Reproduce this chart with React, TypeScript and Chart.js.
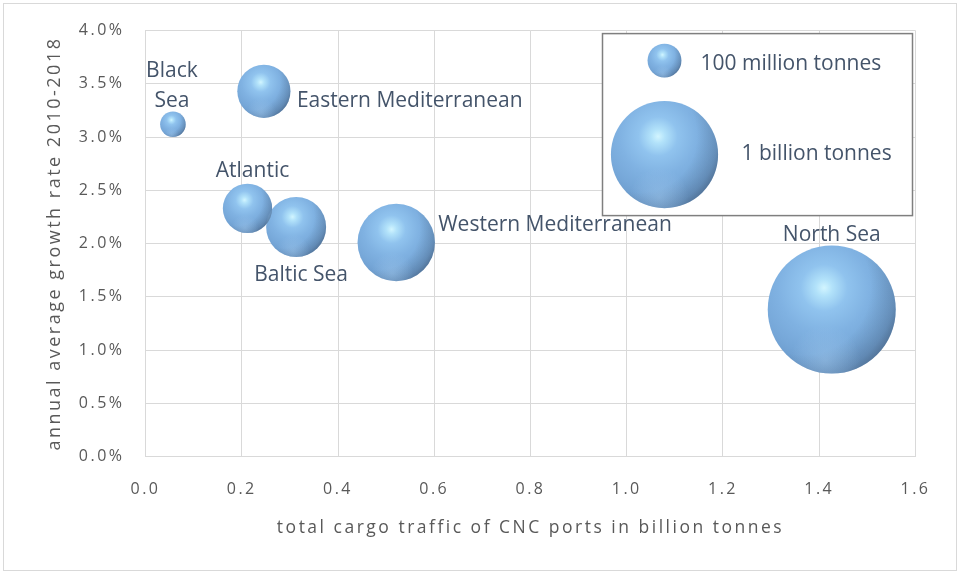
import React, { useEffect, useRef } from 'react';
import { Chart, registerables } from 'chart.js';

Chart.register(...registerables);

// ---------- data ----------
const regionNames = ['Black Sea', 'Eastern Mediterranean', 'Atlantic', 'Baltic Sea', 'Western Mediterranean', 'North Sea'];
const regionLabelLines = [['Black', 'Sea'], ['Eastern Mediterranean'], ['Atlantic'], ['Baltic Sea'], ['Western Mediterranean'], ['North Sea']];
const cargoBillionTonnes = [0.057, 0.246, 0.212, 0.313, 0.521, 1.426];
const growthRatePercent = [3.12, 3.43, 2.33, 2.155, 2.01, 1.38];
const legendSizes = [0.1, 1.0];
const legendLabels = ['100 million tonnes', '1 billion tonnes'];
const xAxisTitle = 'total cargo traffic of CNC ports in billion tonnes';
const yAxisTitle = 'annual average growth rate 2010-2018';

// ---------- styling ----------
const BUBBLE_PX_PER_SQRT = 53.6; // bubble area proportional to cargo
const FONT = "'Open Sans', 'Noto Sans', sans-serif";
const AXIS_COLOR = '#595959';
const LABEL_COLOR = '#44546A';
const GRID_COLOR = '#d9d9d9';

type Placement = { align: CanvasTextAlign; dx: number; dy: number; gap?: number };
const labelPlacement: Placement[] = [
  { align: 'center', dx: -1, dy: -47, gap: 30 },
  { align: 'left', dx: 33, dy: 16 },
  { align: 'center', dx: 5, dy: -31 },
  { align: 'center', dx: 5, dy: 54 },
  { align: 'left', dx: 42, dy: -11 },
  { align: 'center', dx: 0, dy: -69 },
];

const radiusFor = (v: number) => BUBBLE_PX_PER_SQRT * Math.sqrt(v);

function baseGradient(ctx: CanvasRenderingContext2D, x: number, y: number, r: number) {
  const hx = x - 0.12 * r;
  const hy = y - 0.34 * r;
  const g = ctx.createRadialGradient(hx, hy, 0, hx, hy, r * 1.3);
  g.addColorStop(0, '#d2f5ff');
  g.addColorStop(0.1, '#b2e2fa');
  g.addColorStop(0.28, '#90c3ee');
  g.addColorStop(0.55, '#80b2e2');
  g.addColorStop(0.8, '#76a7d8');
  g.addColorStop(1, '#6b9acb');
  return g;
}

function shadeBubble(ctx: CanvasRenderingContext2D, x: number, y: number, r: number) {
  ctx.save();
  ctx.beginPath();
  ctx.arc(x, y, r, 0, Math.PI * 2);
  ctx.clip();
  const sx = x - 0.45 * r;
  const sy = y - 0.35 * r;
  const g2 = ctx.createRadialGradient(sx, sy, 0, sx, sy, r * 1.7);
  g2.addColorStop(0, 'rgba(50,65,85,0)');
  g2.addColorStop(0.62, 'rgba(50,65,85,0)');
  g2.addColorStop(0.85, 'rgba(50,65,85,0.22)');
  g2.addColorStop(1, 'rgba(50,65,85,0.6)');
  ctx.fillStyle = g2;
  ctx.fillRect(x - r, y - r, 2 * r, 2 * r);
  const ry = y + 0.8 * r;
  const g3 = ctx.createRadialGradient(x - 0.1 * r, ry, 0, x - 0.1 * r, ry, 0.55 * r);
  g3.addColorStop(0, 'rgba(170,208,242,0.4)');
  g3.addColorStop(1, 'rgba(170,208,242,0)');
  ctx.fillStyle = g3;
  ctx.fillRect(x - r, y - r, 2 * r, 2 * r);
  ctx.restore();
}

function paintBubble(ctx: CanvasRenderingContext2D, x: number, y: number, r: number) {
  ctx.save();
  ctx.beginPath();
  ctx.arc(x, y, r, 0, Math.PI * 2);
  ctx.fillStyle = baseGradient(ctx, x, y, r);
  ctx.fill();
  ctx.restore();
  shadeBubble(ctx, x, y, r);
}

const framePlugin = {
  id: 'frame',
  beforeDraw(chart: any) {
    const ctx = chart.ctx as CanvasRenderingContext2D;
    ctx.save();
    ctx.fillStyle = '#ffffff';
    ctx.fillRect(0, 0, chart.width, chart.height);
    ctx.strokeStyle = GRID_COLOR;
    ctx.lineWidth = 1;
    ctx.strokeRect(3.5, 3.5, chart.width - 7, chart.height - 7);
    ctx.restore();
    (ctx as any).letterSpacing = '2.5px';
  },
  beforeDatasetsDraw(chart: any) {
    (chart.ctx as any).letterSpacing = '0px';
  },
};

const bubbleDecorPlugin = {
  id: 'bubbleDecor',
  afterDatasetsDraw(chart: any) {
    const ctx = chart.ctx as CanvasRenderingContext2D;
    (ctx as any).letterSpacing = '0px';
    const meta = chart.getDatasetMeta(0);
    meta.data.forEach((el: any) => {
      shadeBubble(ctx, el.x, el.y, el.options.radius);
    });
    // data labels
    ctx.save();
    ctx.font = `21px ${FONT}`;
    ctx.fillStyle = LABEL_COLOR;
    ctx.textBaseline = 'alphabetic';
    meta.data.forEach((el: any, i: number) => {
      const p = labelPlacement[i];
      ctx.textAlign = p.align;
      regionLabelLines[i].forEach((line, k) => {
        ctx.fillText(line, el.x + p.dx, el.y + p.dy + k * (p.gap || 0));
      });
    });
    ctx.restore();

    // size legend
    const ca = chart.chartArea;
    const boxL = ca.right - 313;
    const boxT = ca.top + 3;
    ctx.save();
    ctx.fillStyle = '#ffffff';
    ctx.fillRect(boxL, boxT, 310, 182);
    ctx.strokeStyle = '#7f7f7f';
    ctx.lineWidth = 1.5;
    ctx.strokeRect(boxL, boxT, 310, 182);
    ctx.restore();
    const centersY = [boxT + 27, boxT + 121];
    const textX = [boxL + 98, boxL + 139];
    const textY = [boxT + 36, boxT + 126];
    legendSizes.forEach((s, i) => {
      paintBubble(ctx, boxL + 62, centersY[i], radiusFor(s));
    });
    ctx.save();
    ctx.font = `21px ${FONT}`;
    ctx.fillStyle = LABEL_COLOR;
    ctx.textAlign = 'left';
    ctx.textBaseline = 'alphabetic';
    legendLabels.forEach((t, i) => ctx.fillText(t, textX[i], textY[i]));
    ctx.restore();
  },
};

export default function App() {
  const ref = useRef<HTMLCanvasElement | null>(null);

  useEffect(() => {
    const canvas = ref.current;
    if (!canvas) return;
    const points = regionNames.map((name, i) => ({
      x: cargoBillionTonnes[i],
      y: growthRatePercent[i],
      r: radiusFor(cargoBillionTonnes[i]),
    }));

    const chart = new Chart(canvas, {
      type: 'bubble',
      data: {
        datasets: [
          {
            label: 'CNC ports',
            data: points,
            borderWidth: 0,
            hoverBorderWidth: 0,
            clip: false as any,
            backgroundColor: (c: any) => {
              const ch = c.chart;
              if (!ch.chartArea || c.type !== 'data' || !c.raw) return '#7aaddd';
              const x = ch.scales.x.getPixelForValue(c.raw.x);
              const y = ch.scales.y.getPixelForValue(c.raw.y);
              return baseGradient(ch.ctx, x, y, c.raw.r);
            },
          },
        ],
      },
      options: {
        animation: false,
        responsive: false,
        events: [],
        layout: { autoPadding: false, padding: { top: 29.5, right: 44.5, bottom: 0, left: 0 } },
        plugins: { legend: { display: false }, tooltip: { enabled: false } },
        scales: {
          x: {
            type: 'linear',
            min: 0,
            max: 1.6,
            afterFit: (s: any) => { s.height = 117.5; },
            ticks: {
              stepSize: 0.2,
              padding: 23,
              color: AXIS_COLOR,
              font: { family: FONT, size: 16 },
              callback: (v: any) => Number(v).toFixed(1),
            },
            grid: { color: GRID_COLOR, drawTicks: false, lineWidth: 1 },
            border: { color: GRID_COLOR },
            title: {
              display: true,
              text: xAxisTitle,
              color: AXIS_COLOR,
              font: { family: FONT, size: 17.5 },
              padding: { top: 0, bottom: 35 },
            },
          },
          y: {
            type: 'linear',
            min: 0,
            max: 4,
            afterFit: (s: any) => { s.width = 145.5; },
            ticks: {
              stepSize: 0.5,
              padding: 21,
              color: AXIS_COLOR,
              font: { family: FONT, size: 16 },
              callback: (v: any) => Number(v).toFixed(1) + '%',
            },
            grid: { color: GRID_COLOR, drawTicks: false, lineWidth: 1 },
            border: { color: GRID_COLOR },
            title: {
              display: true,
              text: yAxisTitle,
              color: AXIS_COLOR,
              font: { family: FONT, size: 18 },
              padding: { top: 44, bottom: 0 },
            },
          },
        },
      },
      plugins: [framePlugin, bubbleDecorPlugin],
    });

    return () => chart.destroy();
  }, []);

  return (
    <div style={{ position: 'absolute', left: 0, top: 0, width: 960, height: 574 }}>
      <canvas ref={ref} width={960} height={574} style={{ display: 'block' }} />
    </div>
  );
}
